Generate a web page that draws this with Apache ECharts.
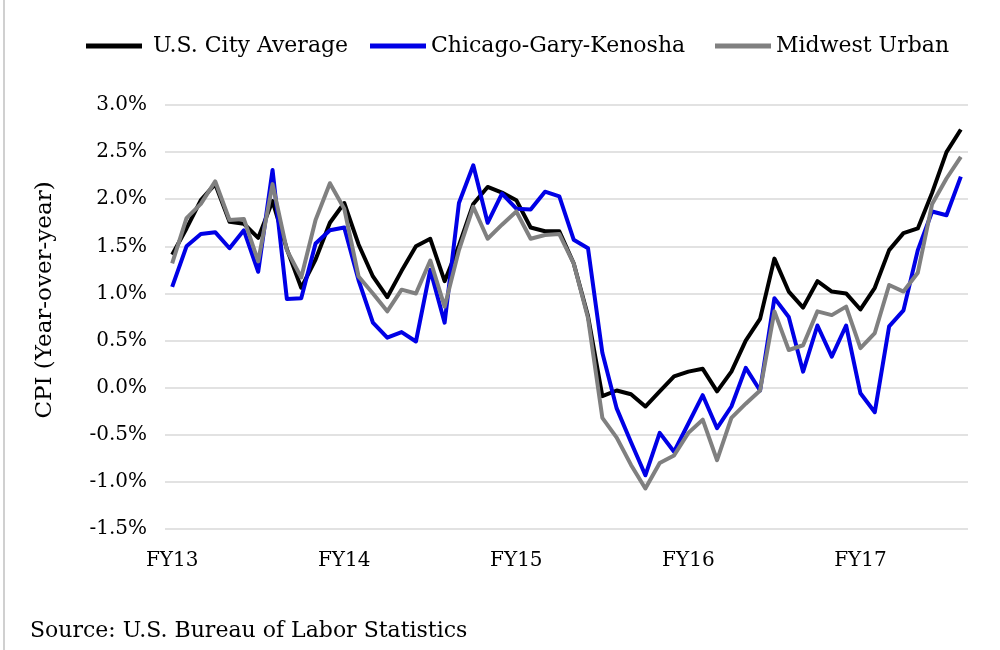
<!DOCTYPE html>
<html><head><meta charset="utf-8">
<script src="https://cdn.jsdelivr.net/npm/echarts@6/dist/echarts.min.js"></script>
<style>html,body{margin:0;padding:0;background:#fff}#c{width:1000px;height:650px}</style>
</head><body><div id="c"></div>
<script>
const months = ["Jul-12","Aug-12","Sep-12","Oct-12","Nov-12","Dec-12",
"Jan-13","Feb-13","Mar-13","Apr-13","May-13","Jun-13","Jul-13","Aug-13","Sep-13","Oct-13","Nov-13","Dec-13",
"Jan-14","Feb-14","Mar-14","Apr-14","May-14","Jun-14","Jul-14","Aug-14","Sep-14","Oct-14","Nov-14","Dec-14",
"Jan-15","Feb-15","Mar-15","Apr-15","May-15","Jun-15","Jul-15","Aug-15","Sep-15","Oct-15","Nov-15","Dec-15",
"Jan-16","Feb-16","Mar-16","Apr-16","May-16","Jun-16","Jul-16","Aug-16","Sep-16","Oct-16","Nov-16","Dec-16",
"Jan-17","Feb-17"];
const fyTickMonths = ["Jul-12","Jul-13","Jul-14","Jul-15","Jul-16"];
const fyTickLabels = ["FY13","FY14","FY15","FY16","FY17"];
const usCity = [1.41,1.69,1.99,2.16,1.76,1.74,1.59,1.98,1.47,1.06,1.36,1.75,1.96,1.52,1.18,0.96,1.24,1.50,1.58,1.13,1.51,1.95,2.13,2.07,1.99,1.70,1.66,1.66,1.32,0.76,-0.09,-0.03,-0.07,-0.20,-0.04,0.12,0.17,0.20,-0.04,0.17,0.50,0.73,1.37,1.02,0.85,1.13,1.02,1.00,0.83,1.06,1.46,1.64,1.69,2.07,2.50,2.74];
const chicago = [1.07,1.50,1.63,1.65,1.48,1.67,1.23,2.31,0.94,0.95,1.53,1.67,1.70,1.14,0.69,0.53,0.59,0.49,1.25,0.69,1.96,2.36,1.75,2.06,1.90,1.89,2.08,2.03,1.57,1.48,0.37,-0.22,-0.58,-0.93,-0.48,-0.68,-0.38,-0.08,-0.43,-0.20,0.21,-0.03,0.95,0.75,0.17,0.66,0.33,0.66,-0.06,-0.26,0.65,0.82,1.46,1.87,1.83,2.24];
const midwest = [1.32,1.80,1.95,2.19,1.78,1.79,1.34,2.16,1.46,1.17,1.78,2.17,1.90,1.18,1.00,0.81,1.04,1.00,1.35,0.86,1.46,1.92,1.58,1.73,1.87,1.58,1.62,1.63,1.32,0.74,-0.32,-0.53,-0.82,-1.07,-0.80,-0.72,-0.48,-0.34,-0.77,-0.32,-0.17,-0.03,0.81,0.40,0.45,0.81,0.77,0.86,0.42,0.58,1.09,1.02,1.22,1.95,2.22,2.45];
const seriesNames = ["U.S. City Average","Chicago-Gary-Kenosha","Midwest Urban"];
const seriesColors = ["#000000","#0000e6","#808080"];

const FONT = "DejaVu Serif";
const chart = echarts.init(document.getElementById('c'));
const legendLefts = [86, 370, 715];
const legendTextPad = [6, 0, 0];
const option = {
  animation: false,
  backgroundColor: '#ffffff',
  textStyle: {fontFamily: FONT},
  grid: {left: 165, right: 32, top: 105, bottom: 121},
  legend: seriesNames.map((n, i) => ({
    data: [n], left: legendLefts[i], top: 35, padding: 0, icon: 'rect', itemWidth: 56, itemHeight: 5,
    textStyle: {fontFamily: FONT, fontSize: 22, color: '#000', padding: [0, 0, 0, legendTextPad[i]]}
  })),
  xAxis: {
    type: 'category', data: months, boundaryGap: true,
    axisLine: {show: false}, axisTick: {show: false},
    axisLabel: {
      interval: (idx, val) => fyTickMonths.indexOf(val) >= 0,
      formatter: (val) => { const k = fyTickMonths.indexOf(val); return k >= 0 ? fyTickLabels[k] : ''; },
      fontFamily: FONT, fontSize: 20, color: '#000', margin: 22
    }
  },
  yAxis: {
    type: 'value', min: -1.5, max: 3.0, interval: 0.5,
    axisLine: {show: false}, axisTick: {show: false},
    splitLine: {lineStyle: {color: '#d9d9d9', width: 1.5}},
    axisLabel: {formatter: v => v.toFixed(1) + '%', fontFamily: FONT, fontSize: 20, color: '#000', margin: 18}
  },
  series: [usCity, chicago, midwest].map((d, i) => ({
    name: seriesNames[i], type: 'line', data: d, symbol: 'none', z: 2 + i,
    lineStyle: {color: seriesColors[i], width: 4, join: 'round'},
    itemStyle: {color: seriesColors[i]}
  })),
  graphic: [
    {type: 'line', shape: {x1: 4, y1: 0, x2: 4, y2: 650}, style: {stroke: '#d0d0d0', lineWidth: 2}},
    {type: 'text', x: 45, y: 300, rotation: Math.PI / 2,
      style: {text: 'CPI (Year-over-year)', font: '23px "DejaVu Serif"', fill: '#000', align: 'center', verticalAlign: 'middle'}},
    {type: 'text', x: 30, y: 631,
      style: {text: 'Source: U.S. Bureau of Labor Statistics', font: '22px "DejaVu Serif"', fill: '#000', align: 'left', verticalAlign: 'middle'}}
  ]
};
chart.setOption(option);
</script></body></html>
